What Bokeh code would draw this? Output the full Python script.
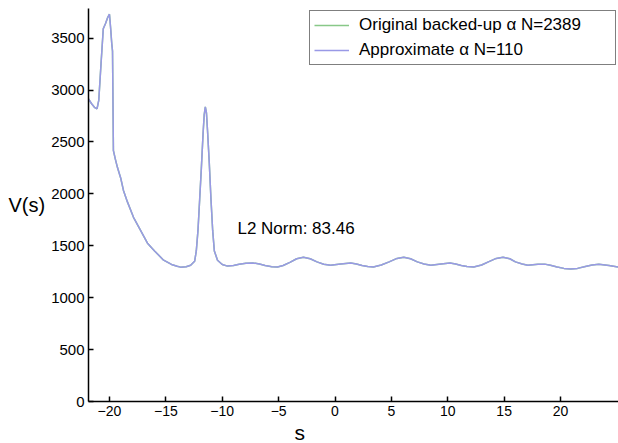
from bokeh.plotting import figure
from bokeh.models import Range1d, FixedTicker, Legend, LegendItem, Label, Title
from bokeh.embed import file_html
from bokeh.resources import INLINE

# ---- data ----
s_vals = [-21.86, -21.6, -21.3, -21.1, -20.95, -20.75, -20.55, -20.35, -20.15, -20.0,
          -19.9, -19.8, -19.73, -19.65, -19.47, -19.29, -19.0, -18.76, -18.4, -17.87,
          -17.4, -16.63, -16.0, -15.2, -14.5, -14.0, -13.7, -13.2, -12.8, -12.45,
          -12.3, -12.15, -12.0, -11.85, -11.7, -11.6, -11.5, -11.4, -11.3, -11.15,
          -11.0, -10.85, -10.7, -10.42, -10.0, -9.53, -9.0, -8.5, -7.9, -7.3,
          -6.7, -6.2, -5.6, -5.1, -4.6, -4.0, -3.4, -2.8, -2.2, -1.6,
          -1.0, -0.4, 0.5, 1.4, 1.9, 2.4, 2.9, 3.4, 4.1, 4.8,
          5.5, 6.1, 6.7, 7.3, 7.9, 8.5, 9.4, 10.2, 10.7, 11.2,
          11.7, 12.3, 13.0, 13.6, 14.3, 14.9, 15.5, 16.0, 16.6, 17.1,
          18.0, 18.6, 19.1, 19.7, 20.3, 20.9, 21.5, 22.2, 22.8, 23.4,
          24.3, 25.1]
v_orig = [2915, 2870, 2830, 2820, 2900, 3250, 3590, 3640, 3700, 3730,
          3600, 3450, 3375, 2416, 2330, 2253, 2150, 2033, 1920, 1774,
          1680, 1525, 1450, 1361, 1320, 1302, 1294, 1298, 1313, 1350,
          1450, 1650, 1950, 2250, 2580, 2760, 2838, 2780, 2600, 2300,
          1950, 1650, 1450, 1361, 1320, 1304, 1310, 1322, 1332, 1335,
          1325, 1310, 1298, 1295, 1310, 1340, 1375, 1390, 1375, 1345,
          1322, 1313, 1325, 1333, 1325, 1310, 1300, 1295, 1315, 1345,
          1378, 1390, 1375, 1345, 1325, 1313, 1325, 1333, 1325, 1310,
          1300, 1295, 1315, 1345, 1378, 1390, 1375, 1345, 1325, 1313,
          1322, 1323, 1312, 1295, 1282, 1275, 1282, 1300, 1315, 1323,
          1310, 1295]
v_approx = list(v_orig)

x_ticks = [-20, -15, -10, -5, 0, 5, 10, 15, 20]
y_ticks = [0, 500, 1000, 1500, 2000, 2500, 3000, 3500]

legend_labels = ["Original backed-up \u03b1 N=2389", "Approximate \u03b1 N=110"]
norm_text = "L2 Norm: 83.46"
x_label = "s"
y_label = "V(s)"

FONT = "Liberation Sans"

p = figure(width=618, height=443, output_backend="svg", toolbar_location=None,
           x_range=Range1d(-21.86, 25.14), y_range=Range1d(0, 3785),
           min_border_left=88, min_border_right=0, min_border_top=8, min_border_bottom=40)
p.outline_line_color = None
p.grid.visible = False
p.background_fill_color = "white"
p.border_fill_color = "white"

for ax in (p.xaxis[0], p.yaxis[0]):
    ax.axis_line_color = "black"
    ax.axis_line_width = 1.5
    ax.major_tick_line_color = "black"
    ax.major_tick_line_width = 1.5
    ax.major_tick_in = 5
    ax.major_tick_out = 0
    ax.minor_tick_line_color = None
    ax.major_label_text_font = FONT
    ax.major_label_text_color = "black"

p.xaxis[0].ticker = FixedTicker(ticks=x_ticks)
p.yaxis[0].ticker = FixedTicker(ticks=y_ticks)
p.xaxis[0].major_label_text_font_size = "14px"
p.yaxis[0].major_label_text_font_size = "15px"
p.xaxis[0].major_label_standoff = 4
p.yaxis[0].major_label_standoff = 4

p.yaxis[0].axis_label = y_label
p.yaxis[0].axis_label_orientation = "horizontal"
p.yaxis[0].axis_label_text_font = FONT
p.yaxis[0].axis_label_text_font_size = "20px"
p.yaxis[0].axis_label_text_font_style = "normal"
p.yaxis[0].axis_label_text_color = "black"
p.yaxis[0].axis_label_standoff = 3

p.add_layout(Title(text=x_label, align="left", offset=206, standoff=0,
                   text_font=FONT, text_font_size="21px", text_font_style="normal",
                   text_color="black"), "below")

r1 = p.line(s_vals, v_orig, line_color="#88c888", line_width=1.5)
r2 = p.line(s_vals, v_approx, line_color="#9999e6", line_width=1.5)

legend = Legend(items=[LegendItem(label=legend_labels[0], renderers=[r1]),
                       LegendItem(label=legend_labels[1], renderers=[r2])],
                location="top_right", margin=2, padding=4, spacing=5,
                glyph_width=35, glyph_height=20, label_height=20,
                label_standoff=10, label_width=252,
                label_text_font=FONT, label_text_font_size="17px",
                label_text_color="black",
                border_line_color="black", border_line_width=1.5,
                background_fill_color="white", background_fill_alpha=1.0)
p.add_layout(legend, "center")

p.add_layout(Label(x=-8.65, y=1668, text=norm_text, text_font=FONT,
                   text_font_size="17px", text_baseline="middle", text_align="left",
                   text_color="black"))

open("out.html", "w").write(file_html(p, INLINE))
